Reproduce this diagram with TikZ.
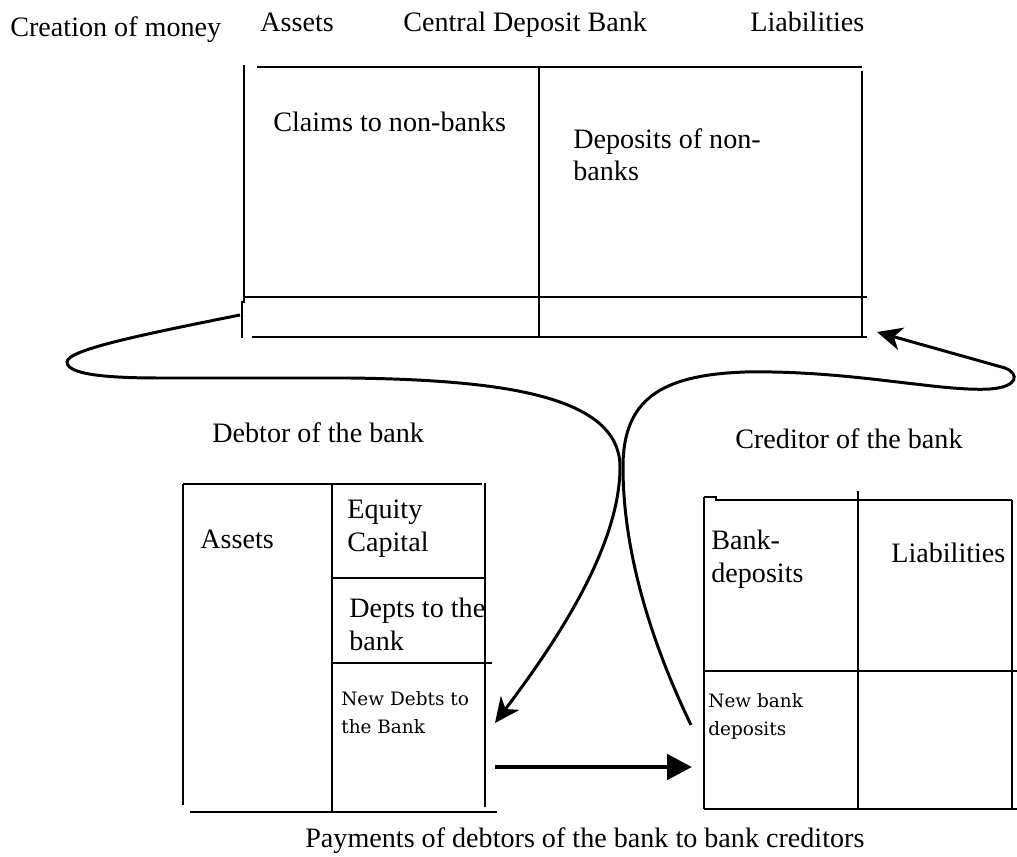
\documentclass[tikz,border=0pt]{standalone}
\usepackage{fontspec}
\setmainfont{Liberation Serif}
\newfontfamily\smallserif{DejaVu Serif}
\usetikzlibrary{arrows.meta}
\tikzset{
  rule/.style  = {line width=1.2pt, black},
  flow/.style  = {line width=1.7pt, -{Stealth[length=5mm, width=4.6mm, inset=1.5mm]}},
  pay/.style   = {line width=2.8pt, -{Triangle[length=5mm, width=5mm]}},
  lbl/.style   = {font=\fontsize{16}{18.3}\selectfont, inner sep=0pt, anchor=base west},
  blk/.style   = {font=\fontsize{16}{18.3}\selectfont, inner sep=0pt, anchor=north west, align=left},
  slbl/.style  = {font=\smallserif\fontsize{10.5}{15.9}\selectfont, inner sep=0pt, anchor=north west, align=left},
}
\begin{document}
\begin{tikzpicture}[x=0.2mm,y=-0.2mm]
  \useasboundingbox (0,0) rectangle (1017,857);
  % headings
  \node[lbl] (title)   at (10,37)  {Creation of money};
  \node[lbl] (cbass)   at (260,32) {Assets};
  \node[lbl] (cbname)  at (403,32) {Central Deposit Bank};
  \node[lbl] (cbliab)  at (750,32) {Liabilities};
  % central deposit bank
  \draw[rule] (257,67) -- (862,67);
  \draw[rule] (244,65) -- (244,302) -- (242,302) -- (242,338);
  \draw[rule] (539,67) -- (539,337);
  \draw[rule] (862,71) -- (862,337);
  \draw[rule] (244,297) -- (867,297);
  \draw[rule] (252,337) -- (867,337);
  \node[lbl] (claims)  at (273,132) {Claims to non-banks};
  \node[blk] (depos)   at (573,128) {Deposits of non-\\banks};
  % debtor of the bank
  \node[lbl] (debtor)  at (212,442) {Debtor of the bank};
  \draw[rule] (183,484) -- (482,484);
  \draw[rule] (183,484) -- (183,805);
  \draw[rule] (332,484) -- (332,812);
  \draw[rule] (485,483) -- (485,807);
  \draw[rule] (332,578) -- (485,578);
  \draw[rule] (332,663) -- (492,663);
  \draw[rule] (190,812) -- (497,812);
  \node[lbl] (dass)    at (200,548) {Assets};
  \node[blk] (equity)  at (347,500) {Equity\\Capital};
  \node[blk] (depts)   at (349,598) {Depts to the\\bank};
  \node[slbl] (newdebt) at (341,691) {New Debts to\\the Bank};
  % creditor of the bank
  \node[lbl] (creditor) at (735,448) {Creditor of the bank};
  \draw[rule] (704,497) -- (716,497) -- (716,500) -- (1012,500);
  \draw[rule] (704,497) -- (704,809);
  \draw[rule] (858,491) -- (858,809);
  \draw[rule] (1012,500) -- (1012,809);
  \draw[rule] (704,671) -- (1017,671);
  \draw[rule] (704,809) -- (1017,809);
  \node[blk] (bankdep) at (711,530) {Bank-\\deposits};
  \node[lbl] (cliab)   at (891,562) {Liabilities};
  \node[slbl] (newdep) at (708,693) {New bank\\deposits};
  % flows
  \coordinate (loanout) at (240,315);
  \coordinate (loanin)  at (495,723);
  \coordinate (depout)  at (691,725);
  \coordinate (depin)   at (877,332);
  \coordinate (payout)  at (495,767);
  \coordinate (payin)   at (692,767);
  \draw[flow] (loanout) .. controls (140,335) and (67,350) .. (67,362)
    .. controls (67,375) and (110,378) .. (160,378) -- (350,378)
    .. controls (500,380) and (620,395) .. (620,467)
    .. controls (620,550) and (550,650) .. (loanin);
  \draw[flow] (depout) .. controls (650,640) and (623,550) .. (623,467)
    .. controls (623,400) and (660,375) .. (745,372)
    .. controls (850,370) and (940,392) .. (990,389)
    .. controls (1018,387) and (1020,374) .. (1005,368) -- (depin);
  \draw[pay] (payout) -- (payin);
  \node[lbl] (caption) at (305,847) {Payments of debtors of the bank to bank creditors};
\end{tikzpicture}
\end{document}
